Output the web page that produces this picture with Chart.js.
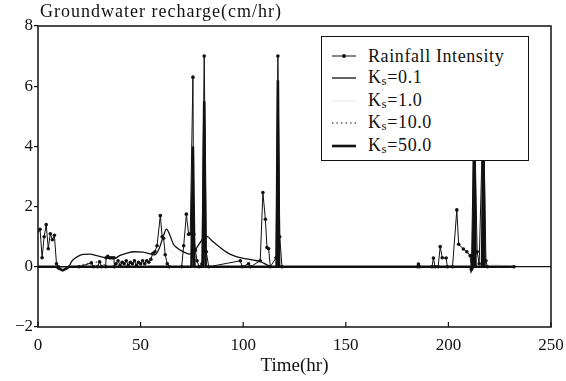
<!DOCTYPE html>
<html>
<head>
<meta charset="utf-8">
<script src="https://cdn.jsdelivr.net/npm/chart.js@4.4.1/dist/chart.umd.min.js"></script>
<style>
  html,body{margin:0;padding:0;background:#fff}
  #wrap{position:relative;width:566px;height:381px;font-family:"Liberation Serif","Times New Roman",Tinos,"DejaVu Serif","Noto Serif",serif;color:#111}
  #ytitle{position:absolute;left:40px;top:1px;font-size:18px;letter-spacing:1px;white-space:nowrap}
  #legend{position:absolute;left:321px;top:36px;width:208px;height:125px;border:1.5px solid #111;background:#fff;box-sizing:border-box}
  .row{position:absolute;left:0;height:22px;display:flex;align-items:center;font-size:18px;letter-spacing:.6px;white-space:nowrap}
  .row svg{margin-left:10px;margin-right:12px}
  sub{font-size:13px;vertical-align:-2px}
</style>
</head>
<body>
<div id="wrap">
  <canvas id="c" width="566" height="381"></canvas>
  <div id="ytitle">Groundwater recharge(cm/hr)</div>
  <div id="legend"></div>
</div>
<script>
// ─ data (time in hr, recharge in cm/hr) ─
const xTicks = [0, 50, 100, 150, 200, 250];
const yTicks = [-2, 0, 2, 4, 6, 8];

const rainTime = [0,1,2,3,4,5,6,7,8,9,10,20,26,27,29,30,31,33,33.2,34,35,36,37,37.2,38,39,40,41,42,43,44,45,46,47,48,49,50,51,52,53,54,55,56,57,58,59.6,60.5,61.2,62,63,64,70,71,72.3,73.4,74.2,75.5,75.9,76.7,77.5,78.5,79.9,81,82,83.2,98.6,99.5,102.6,103.5,108.3,109.6,110.8,111.6,112.4,113.2,116,116.9,117.8,118.9,185,185.4,186,192,192.7,193.5,195,196,197,198.9,199.5,202,204.1,205,207.3,209,210.6,211.2,212.6,214,215,217,218.3,219,232];
const rainRate = [1.2,1.25,0.3,1.0,1.4,0.6,1.1,0.9,1.05,0.1,0,0,0.13,0,0,0.17,0,0,0.3,0.35,0.3,0.3,0.3,0,0.1,0.2,0.05,0.15,0.1,0.2,0.05,0.15,0.1,0.2,0.05,0.15,0.1,0.2,0.1,0.2,0.15,0.25,0.45,0.5,0.7,1.7,1.0,0.95,0.4,0.1,0,0,0.7,1.75,1.08,1.1,6.3,1.08,0.55,0.2,0,0.1,7.0,0.5,0,0.2,0,0.1,0,0.2,2.47,1.58,0.64,0.6,0,0.3,7.0,1.0,0,0,0.09,0,0,0.29,0,0,0.67,0.3,0.29,0,0,1.89,0.75,0.59,0.5,0.37,-0.08,5.5,0.5,0.1,5.5,0.2,0,0];

const ks01Time = [15,16.6,19,22,25.6,28,32,35,37,40,43,47,51,55,57,59,61,62.6,64,66,68,70,72,74,76,78,80,82.4,85,88.8,92,95.3,98,101.8,105,108.3,110,112,114,120];
const ks01Rate = [0,0.2,0.33,0.41,0.42,0.38,0.31,0.27,0.27,0.38,0.45,0.5,0.49,0.42,0.4,0.6,1.0,1.25,1.1,0.75,0.62,0.53,0.46,0.42,0.5,0.7,0.9,1.0,0.85,0.64,0.48,0.37,0.31,0.26,0.22,0.18,0.12,0.05,0,0];

const ks1Time = [0,10,20,40,60,62,70,80,82,100,110,120,200,205,212,232];
const ks1Rate = [0,0,0.05,0.1,0.3,0.6,0.3,0.4,0.7,0.15,0.3,0,0,0.4,0.2,0];

const ks10Time = [0,20,22,24,26,28,30,32,33,60,75,75.5,76,80.5,81,81.5,116.5,116.9,117.3,212,212.6,213,216.6,217,217.4,232];
const ks10Rate = [0,0,0.08,0.1,0.13,0.15,0.17,0.1,0,0,0,3.0,0,0,4.5,0,0,3.5,0,0,2.5,0,0,2.5,0,0];

const ks50Time = [0,9,10,12,14,15,74.8,75.5,76.2,80.3,81,81.7,116.3,116.9,117.5,211,211.2,212,212.6,213.2,216.4,217,217.6,232];
const ks50Rate = [0,0,-0.05,-0.12,-0.05,0,0,4.0,0,0,5.5,0,0,6.2,0,0,-0.1,0,4.5,0,0,4.5,0,0];

const seriesNames = ['Rainfall Intensity', 'Ks=0.1', 'Ks=1.0', 'Ks=10.0', 'Ks=50.0'];

const pts = (t, v) => t.map((x, i) => ({x, y: v[i]}));
const INK = '#111';

const datasets = [
  { label: seriesNames[0], data: pts(rainTime, rainRate), borderColor: INK, borderWidth: 1,
    pointRadius: 1.8, pointBackgroundColor: INK, pointBorderWidth: 0, tension: 0, _dash: [], _dot: true },
  { label: seriesNames[1], data: pts(ks01Time, ks01Rate), borderColor: INK, borderWidth: 1.3,
    pointRadius: 0, cubicInterpolationMode: 'monotone', _dash: [] },
  { label: seriesNames[2], data: pts(ks1Time, ks1Rate), borderColor: 'rgba(0,0,0,0.08)', borderWidth: 1,
    pointRadius: 0, cubicInterpolationMode: 'monotone', _dash: [] },
  { label: seriesNames[3], data: pts(ks10Time, ks10Rate), borderColor: INK, borderWidth: 1,
    borderDash: [1.5, 3], pointRadius: 0, _dash: [1.5, 3] },
  { label: seriesNames[4], data: pts(ks50Time, ks50Rate), borderColor: INK, borderWidth: 2.6,
    pointRadius: 0, _dash: [] },
];

// ─ frame + inward x ticks ─
const frame = {
  id: 'frame',
  afterDatasetsDraw(c) {
    const {ctx, chartArea: a, scales: {x}} = c;
    ctx.save();
    ctx.strokeStyle = INK;
    ctx.lineWidth = 1.5;
    ctx.strokeRect(a.left, a.top, a.right - a.left, a.bottom - a.top);
    ctx.lineWidth = 1.2;
    xTicks.forEach(v => {
      const px = x.getPixelForValue(v);
      ctx.beginPath(); ctx.moveTo(px, a.bottom); ctx.lineTo(px, a.bottom - 5); ctx.stroke();
    });
    ctx.restore();
  }
};

const serif = '"Liberation Serif","Times New Roman",Tinos,"DejaVu Serif","Noto Serif",serif';

new Chart(document.getElementById('c'), {
  type: 'line',
  data: { datasets },
  options: {
    responsive: false, animation: false, devicePixelRatio: 1,
    layout: { padding: { top: 26, right: 15, left: 0, bottom: 0 } },
    plugins: { legend: { display: false }, tooltip: { enabled: false } },
    scales: {
      x: {
        type: 'linear', min: 0, max: 250,
        afterBuildTicks: s => { s.ticks = xTicks.map(v => ({value: v})); },
        afterFit: s => { s.height = 54; },
        grid: { display: false },
        border: { display: false },
        ticks: { color: INK, padding: 0, font: { family: serif, size: 17 } },
        title: { display: true, text: 'Time(hr)', color: INK, padding: { top: 0, bottom: 4 },
                 font: { family: serif, size: 19 } }
      },
      y: {
        min: -2, max: 8,
        afterBuildTicks: s => { s.ticks = yTicks.map(v => ({value: v})); },
        afterFit: s => { s.width = 38; },
        grid: {
          drawOnChartArea: true, tickLength: 4, tickColor: INK, tickWidth: 1.2,
          color: ctx => ctx.tick && ctx.tick.value === 0 ? INK : 'rgba(0,0,0,0)',
          lineWidth: 1.2
        },
        border: { display: false },
        ticks: { color: INK, padding: 1, font: { family: serif, size: 17 },
                 callback: v => v < 0 ? '\u2212' + Math.abs(v) : String(v) }
      }
    }
  },
  plugins: [frame]
});

// ─ legend box ─
const leg = document.getElementById('legend');
const rowY = [8, 30, 53, 75, 98];
datasets.forEach((d, i) => {
  const row = document.createElement('div');
  row.className = 'row';
  row.style.top = rowY[i] + 'px';
  const dash = d._dash.length ? `stroke-dasharray="${d._dash.join(' ')}"` : '';
  const dot = d._dot ? `<circle cx="12" cy="6" r="2" fill="${d.borderColor}"/>` : '';
  const label = d.label.replace(/^Ks/, 'K<sub>s</sub>');
  row.innerHTML = `<svg width="24" height="12"><line x1="0" y1="6" x2="24" y2="6" stroke="${d.borderColor}" stroke-width="${d.borderWidth}" ${dash}/>${dot}</svg><span>${label}</span>`;
  leg.appendChild(row);
});
</script>
</body>
</html>
